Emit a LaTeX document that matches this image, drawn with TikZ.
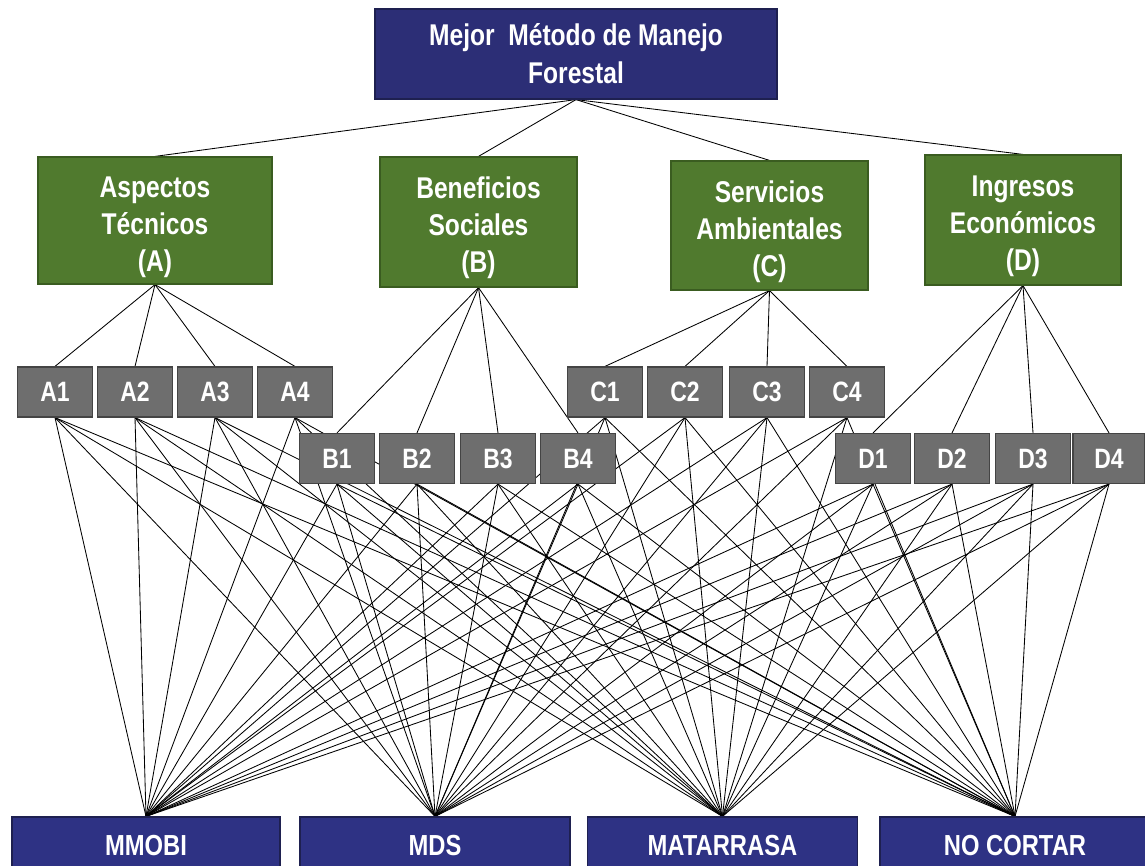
\documentclass[tikz,border=0pt]{standalone}
\usepackage{fontspec}
\newfontfamily\narrowfont{Liberation Sans}[FakeStretch=0.82]
\usetikzlibrary{backgrounds}
\definecolor{navyfill}{RGB}{44,46,118}
\definecolor{navyline}{RGB}{30,32,80}
\definecolor{navybot}{RGB}{46,50,132}
\definecolor{greenfill}{RGB}{80,122,46}
\definecolor{greenline}{RGB}{58,92,32}
\definecolor{greyfill}{RGB}{110,110,110}
\definecolor{greyline}{RGB}{68,68,68}
\newcommand{\gstrut}{\rule{0pt}{34pt}}
\tikzset{
  basebox/.style={rectangle, draw, line width=1.2pt, inner sep=0pt, align=center, text=white},
  topbox/.style={basebox, fill=navyfill, draw=navyline, minimum width=402pt, minimum height=90pt,
    font=\narrowfont\bfseries\fontsize{30}{38}\selectfont},
  critbox/.style={basebox, fill=greenfill, draw=greenline, minimum width=197pt, minimum height=129pt,
    font=\narrowfont\bfseries\fontsize{30}{37}\selectfont},
  subbox/.style={basebox, fill=greyfill, draw=greyline, minimum width=75pt, minimum height=50pt,
    font=\narrowfont\bfseries\fontsize{28}{32}\selectfont},
  altbox/.style={basebox, fill=navybot, draw=navyline, minimum width=270pt, minimum height=56pt,
    font=\narrowfont\bfseries\fontsize{29}{32}\selectfont, text depth=0pt},
  link/.style={draw=black, line width=0.85pt}
}
\begin{document}
\begin{tikzpicture}[x=1pt,y=-1pt]
\useasboundingbox (0,0) rectangle (1145,866);
% goal
\node[topbox] (top) at (576,54) {Mejor\ \ Método de Manejo\\Forestal};
% criteria
\node[critbox, minimum width=234pt, minimum height=127pt] (A) at (155,220.5) {\gstrut Aspectos\\Técnicos\\(A)};
\node[critbox, minimum height=130pt] (B) at (478.5,222) {\gstrut Beneficios\\Sociales\\(B)};
\node[critbox] (C) at (769.5,225.5) {\gstrut Servicios\\Ambientales\\(C)};
\node[critbox, minimum width=196pt, minimum height=130pt] (D) at (1023,220) {\gstrut Ingresos\\Económicos\\(D)};
% subcriteria
\node[subbox] (A1) at (55,392) {A1};
\node[subbox] (A2) at (135,392) {A2};
\node[subbox] (A3) at (215,392) {A3};
\node[subbox] (A4) at (295,392) {A4};
\node[subbox] (B1) at (337,458.5) {B1};
\node[subbox] (B2) at (417,458.5) {B2};
\node[subbox] (B3) at (498,458.5) {B3};
\node[subbox] (B4) at (578,458.5) {B4};
\node[subbox] (C1) at (605,392) {C1};
\node[subbox] (C2) at (685,392) {C2};
\node[subbox] (C3) at (767,392) {C3};
\node[subbox] (C4) at (847,392) {C4};
\node[subbox] (D1) at (873,458.5) {D1};
\node[subbox] (D2) at (952,458.5) {D2};
\node[subbox] (D3) at (1033,458.5) {D3};
\node[subbox, minimum width=72pt] (D4) at (1109,458.5) {D4};
% alternatives
\node[altbox, minimum width=268pt] (mmobi) at (146,845) {MMOBI};
\node[altbox] (mds) at (435,845) {MDS};
\node[altbox] (mat) at (722.5,845) {MATARRASA};
\node[altbox] (noc) at (1015,845) {NO CORTAR};
% connectors behind boxes
\begin{scope}[on background layer]
  \fill[white] (0,0) rectangle (1145,866);
  \foreach \p in {A,B,C,D}{
    \draw[link] (top.south) -- (\p.north);
    \foreach \i in {1,2,3,4}{
      \draw[link] (\p\i.north) -- (\p.south);
      \foreach \alt in {mmobi,mds,mat,noc}{
        \draw[link] (\p\i.south) -- (\alt.north);
      }
    }
  }
\end{scope}
\end{tikzpicture}
\end{document}
